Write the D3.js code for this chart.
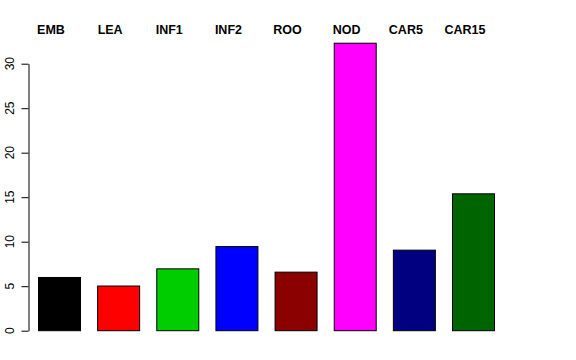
<!DOCTYPE html>
<html>
<head>
<meta charset="utf-8">
<script src="https://cdn.jsdelivr.net/npm/d3@7"></script>
<style>
  body { margin: 0; background: #fff; }
  text { font-family: "Liberation Sans", Arial, Helvetica, sans-serif; }
</style>
</head>
<body>
<script>
// data
var categories = ["EMB", "LEA", "INF1", "INF2", "ROO", "NOD", "CAR5", "CAR15"];
var values = [5.98, 5.02, 6.95, 9.45, 6.58, 32.3, 9.05, 15.38];
var barColors = ["#000000", "#ff0000", "#00cd00", "#0000ff", "#8b0000", "#ff00ff", "#000080", "#006400"];
var yTicks = [0, 5, 10, 15, 20, 25, 30];

var width = 576, height = 360;

var svg = d3.select("body").append("svg")
    .attr("width", width)
    .attr("height", height);

// set the ranges
var x = d3.scaleBand()
    .domain(categories)
    .range([38.5, 494.5])
    .paddingInner(0.29)
    .paddingOuter(0);

var y = d3.scaleLinear()
    .domain([0, 30])
    .range([330.7, 63.7]);

// bars
svg.selectAll(".bar")
    .data(categories)
  .enter().append("rect")
    .attr("class", "bar")
    .attr("x", function(d) { return x(d); })
    .attr("width", x.bandwidth())
    .attr("y", function(d, i) { return y(values[i]); })
    .attr("height", function(d, i) { return y(0) - y(values[i]); })
    .style("fill", function(d, i) { return barColors[i]; })
    .style("stroke", "#000")
    .style("stroke-width", 1);

// y axis, R style: line only from first to last tick
var yAxis = svg.append("g")
    .attr("transform", "translate(28.5,0)")
    .call(d3.axisLeft(y).tickValues(yTicks).tickSize(7).tickSizeOuter(0));

yAxis.select(".domain").attr("stroke", "#000");
yAxis.selectAll(".tick line").attr("stroke", "#000");
yAxis.selectAll(".tick text").remove();

// rotated tick labels
svg.selectAll(".ylab")
    .data(yTicks)
  .enter().append("text")
    .attr("class", "ylab")
    .attr("text-anchor", "middle")
    .attr("transform", function(d) { return "translate(13.5," + y(d) + ")rotate(-90)"; })
    .style("font-size", "12px")
    .style("fill", "#000")
    .text(function(d) { return d; });

// category labels across the top
svg.selectAll(".catlab")
    .data(categories)
  .enter().append("text")
    .attr("class", "catlab")
    .attr("text-anchor", "middle")
    .attr("x", function(d) { return x(d) + x.bandwidth() / 2 - 8.5; })
    .attr("y", 34)
    .style("font-size", "12.5px")
    .style("font-weight", "bold")
    .style("fill", "#000")
    .text(function(d) { return d; });
</script>
</body>
</html>
